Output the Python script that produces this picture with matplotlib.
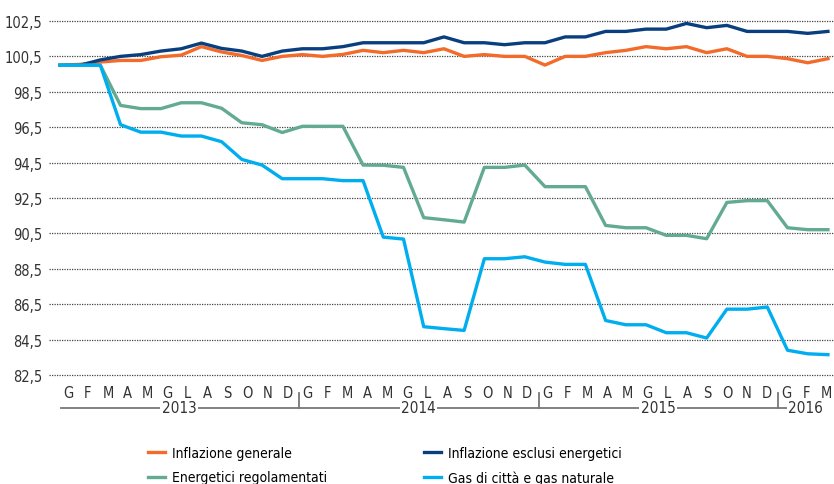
import numpy as np
import matplotlib
matplotlib.use('Agg')
import matplotlib.pyplot as plt
from matplotlib.transforms import blended_transform_factory

plt.rcParams['font.family'] = ['DejaVu Sans']
plt.rcParams['font.stretch'] = 'condensed'

# Months Jan 2013 - Mar 2016 (Italian initials)
months = ['G', 'F', 'M', 'A', 'M', 'G', 'L', 'A', 'S', 'O', 'N', 'D'] * 3 + ['G', 'F', 'M']
years = ['2013', '2014', '2015', '2016']

inflazione_generale = [
    100.0, 100.05, 100.18, 100.27, 100.27, 100.48, 100.57, 101.05, 100.75, 100.55, 100.27, 100.5,
    100.6, 100.5, 100.61, 100.84, 100.71, 100.84, 100.71, 100.93, 100.5, 100.6, 100.5, 100.5,
    100.01, 100.5, 100.5, 100.71, 100.84, 101.05, 100.93, 101.05, 100.71, 100.93, 100.5, 100.5,
    100.37, 100.14, 100.37]
inflazione_escl_energ = [
    100.0, 100.0, 100.3, 100.5, 100.6, 100.8, 100.93, 101.25, 100.95, 100.8, 100.5, 100.8,
    100.93, 100.93, 101.05, 101.27, 101.27, 101.27, 101.27, 101.6, 101.27, 101.27, 101.16, 101.27,
    101.27, 101.6, 101.6, 101.91, 101.91, 102.04, 102.04, 102.36, 102.12, 102.25, 101.91, 101.91,
    101.91, 101.8, 101.91]
energetici_regolamentati = [
    100.0, 100.0, 100.0, 97.73, 97.55, 97.55, 97.88, 97.88, 97.57, 96.75, 96.64, 96.2,
    96.55, 96.55, 96.55, 94.36, 94.35, 94.23, 91.39, 91.27, 91.14, 94.23, 94.23, 94.36,
    93.14, 93.14, 93.14, 90.95, 90.82, 90.82, 90.39, 90.39, 90.2, 92.25, 92.35, 92.35,
    90.82, 90.71, 90.71]
gas_citta_naturale = [
    100.0, 100.0, 100.0, 96.64, 96.22, 96.22, 96.0, 96.0, 95.68, 94.68, 94.36, 93.59,
    93.59, 93.59, 93.48, 93.48, 90.29, 90.18, 85.23, 85.12, 85.02, 89.07, 89.07, 89.18,
    88.88, 88.75, 88.75, 85.58, 85.34, 85.34, 84.89, 84.89, 84.59, 86.22, 86.22, 86.34,
    83.9, 83.7, 83.65]

x = np.arange(len(months))

fig = plt.figure(figsize=(8.34, 4.85), dpi=100)
ax = fig.add_axes([49 / 834, 107.2 / 485, 785 / 834, 357.6 / 485])

l1, = ax.plot(x, inflazione_generale, color='#F26B2B', lw=2.4, label='Inflazione generale')
l2, = ax.plot(x, inflazione_escl_energ, color='#0A3F7F', lw=2.4, label='Inflazione esclusi energetici')
l3, = ax.plot(x, energetici_regolamentati, color='#62AB91', lw=2.4, label='Energetici regolamentati')
l4, = ax.plot(x, gas_citta_naturale, color='#00AEEF', lw=2.4, label='Gas di città e gas naturale')

ax.set_xlim(-0.54, 38.3)
ax.set_ylim(82.4, 102.6)
yt = np.arange(82.5, 103, 2)
ax.set_yticks(yt)
ax.set_yticklabels([f'{v:.1f}'.replace('.', ',') for v in yt], fontsize=10.5, color='#333333')
ax.yaxis.grid(True, linestyle=(0, (1, 1)), color='#444444', lw=0.9)
ax.set_axisbelow(True)
ax.tick_params(axis='y', length=0, pad=5)
for s in ax.spines.values():
    s.set_visible(False)

# month labels
ax.set_xticks(x * 0.988 + 0.4)
ax.set_xticklabels(months, fontsize=10.5, color='#333333')
ax.tick_params(axis='x', length=0, pad=6)

# year band
tr = blended_transform_factory(ax.transData, fig.transFigure)
y_line = 1 - 409 / 485
ax.plot([0.05, 37.6], [y_line, y_line], color='#777777', lw=1.3, transform=tr, clip_on=False)
for d in [11.85, 23.7, 35.55]:
    ax.plot([d, d], [y_line, 1 - 394 / 485], color='#777777', lw=1.3, transform=tr, clip_on=False)
for lab, xc in zip(years, [5.9, 17.75, 29.6, 36.9]):
    ax.text(xc, y_line, lab, transform=tr, ha='center', va='center', fontsize=11,
            color='#333333', bbox=dict(facecolor='white', edgecolor='none', pad=1.0))

fig.legend(handles=[l1, l3, l2, l4], loc='upper left', bbox_to_anchor=(141 / 834, 1 - 440 / 485),
           ncol=2, frameon=False, fontsize=10, handlelength=1.2, handletextpad=0.5,
           labelspacing=0.75, columnspacing=7.0, borderpad=0)

fig.savefig('out.png', dpi=100)
